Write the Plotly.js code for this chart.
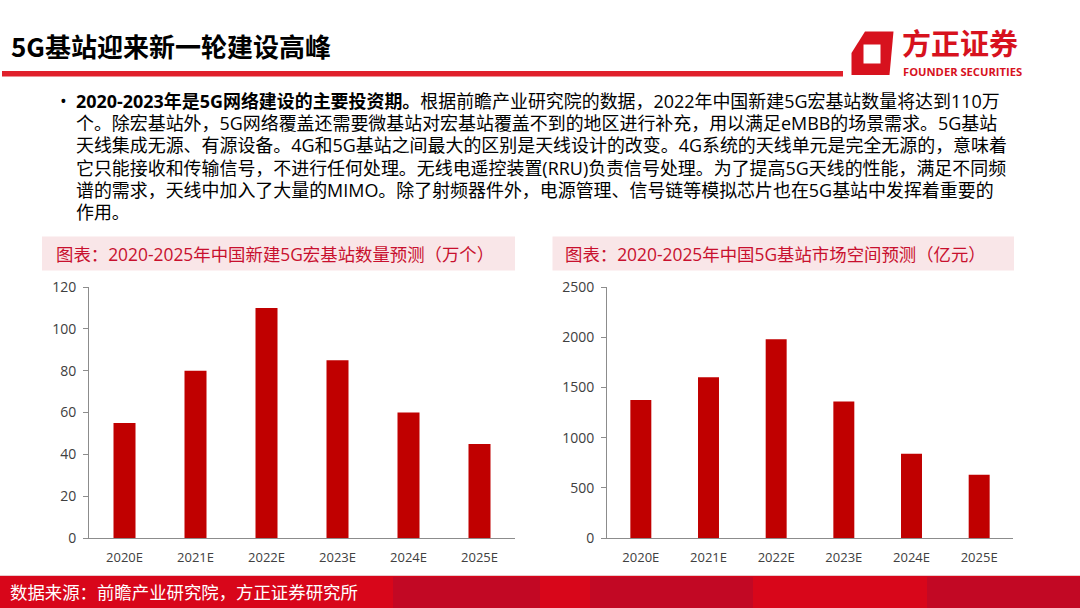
<!DOCTYPE html>
<html>
<head>
<meta charset="utf-8">
<script src="https://cdn.plot.ly/plotly-3.0.1.min.js"></script>
<style>
html,body{margin:0;padding:0;background:#fff;}
#chart{width:1080px;height:608px;}
</style>
</head>
<body>
<div id="chart"></div>
<script>
// ---- data ----
const categories = ["2020E", "2021E", "2022E", "2023E", "2024E", "2025E"];
const newMacroStations = [55, 80, 110, 85, 60, 45];      // 万个
const marketSpace = [1375, 1600, 1980, 1360, 840, 630];   // 亿元
const leftTicks = [0, 20, 40, 60, 80, 100, 120];
const rightTicks = [0, 500, 1000, 1500, 2000, 2500];

const pageTitle = "5G基站迎来新一轮建设高峰";
const leftChartTitle = "图表：2020-2025年中国新建5G宏基站数量预测（万个）";
const rightChartTitle = "图表：2020-2025年中国5G基站市场空间预测（亿元）";
const sourceText = "数据来源：前瞻产业研究院，方正证券研究所";
const bodyLines = [
  "<b>2020-2023年是5G网络建设的主要投资期。</b>根据前瞻产业研究院的数据，2022年中国新建5G宏基站数量将达到110万",
  "个。除宏基站外，5G网络覆盖还需要微基站对宏基站覆盖不到的地区进行补充，用以满足eMBB的场景需求。5G基站",
  "天线集成无源、有源设备。4G和5G基站之间最大的区别是天线设计的改变。4G系统的天线单元是完全无源的，意味着",
  "它只能接收和传输信号，不进行任何处理。无线电遥控装置(RRU)负责信号处理。为了提高5G天线的性能，满足不同频",
  "谱的需求，天线中加入了大量的MIMO。除了射频器件外，电源管理、信号链等模拟芯片也在5G基站中发挥着重要的",
  "作用。"
];

// ---- helpers ----
const W = 1080, H = 608;
const px = x => x / W;
const py = y => 1 - y / H;
const FONT = "'Open Sans', 'Noto Sans CJK SC', sans-serif";
const RED = "#C00000";

const traces = [
  {type: "bar", x: categories, y: newMacroStations, xaxis: "x", yaxis: "y",
   marker: {color: RED, line: {width: 0}}, hoverinfo: "skip"},
  {type: "bar", x: categories, y: marketSpace, xaxis: "x2", yaxis: "y2",
   marker: {color: RED, line: {width: 0}}, hoverinfo: "skip"}
];

const axisCommon = {
  showline: true, linecolor: "#8c8c8c", linewidth: 1,
  showgrid: false, zeroline: false, fixedrange: true
};

const shapes = [
  // title underline
  {type: "rect", xref: "paper", yref: "paper", x0: px(2), x1: px(843), y0: py(76.5), y1: py(71),
   fillcolor: "#E0202B", line: {width: 0}, layer: "below"},
  // chart title boxes
  {type: "rect", xref: "paper", yref: "paper", x0: px(42), x1: px(515), y0: py(270.5), y1: py(236.5),
   fillcolor: "#F9E6E8", line: {width: 0}, layer: "below"},
  {type: "rect", xref: "paper", yref: "paper", x0: px(552.5), x1: px(1014), y0: py(270.5), y1: py(236.5),
   fillcolor: "#F9E6E8", line: {width: 0}, layer: "below"},
  // footer band
  {type: "rect", xref: "paper", yref: "paper", x0: 0, x1: 1, y0: 0, y1: py(576),
   fillcolor: "#D8061A", line: {width: 0}, layer: "below"},
  {type: "rect", xref: "paper", yref: "paper", x0: px(393), x1: px(540), y0: 0, y1: py(577),
   fillcolor: "#C20824", line: {width: 0}, layer: "below"},
  {type: "rect", xref: "paper", yref: "paper", x0: px(590), x1: px(753), y0: 0, y1: py(577),
   fillcolor: "#C20824", line: {width: 0}, layer: "below"},
  {type: "rect", xref: "paper", yref: "paper", x0: px(927), x1: px(1080), y0: 0, y1: py(577),
   fillcolor: "#C20824", line: {width: 0}, layer: "below"},
  {type: "line", xref: "paper", yref: "paper", x0: 0, x1: 1, y0: py(575.5), y1: py(575.5),
   line: {color: "#E9C9CD", width: 1}},
  // logo icon
  {type: "path", xref: "paper", yref: "paper",
   path: `M ${px(865)} ${py(31.5)} L ${px(893.5)} ${py(31.5)} L ${px(889.5)} ${py(75)} L ${px(851.5)} ${py(75)} L ${px(851.5)} ${py(53)} Z`,
   fillcolor: "#D7121E", line: {width: 0}},
  {type: "rect", xref: "paper", yref: "paper", x0: px(863.5), x1: px(880.5), y0: py(63.5), y1: py(44.5),
   fillcolor: "#ffffff", line: {width: 0}}
];

const annotations = [
  {text: pageTitle, x: px(9), y: py(45), xanchor: "left", yanchor: "middle",
   font: {family: "'Noto Sans CJK SC', sans-serif", size: 26, color: "#000", weight: 700}},
  {text: "方正证券", x: px(900), y: py(42.5), xanchor: "left", yanchor: "middle",
   font: {family: "'Noto Sans CJK SC', sans-serif", size: 29, color: "#D7121E", weight: 700}},
  {text: "<b>FOUNDER SECURITIES</b>", x: px(901), y: py(71.5), xanchor: "left", yanchor: "middle",
   font: {family: "'Open Sans', sans-serif", size: 11.2, color: "#D7121E"}},
  {text: "•", x: px(58), y: py(101), xanchor: "left", yanchor: "middle",
   font: {family: FONT, size: 18, color: "#000"}},
  {text: leftChartTitle, x: px(54), y: py(254), xanchor: "left", yanchor: "middle",
   font: {family: FONT, size: 17.4, color: "#C8102E"}},
  {text: rightChartTitle, x: px(563), y: py(254), xanchor: "left", yanchor: "middle",
   font: {family: FONT, size: 17.4, color: "#C8102E"}},
  {text: sourceText, x: px(8), y: py(592), xanchor: "left", yanchor: "middle",
   font: {family: FONT, size: 17.4, color: "#ffffff"}}
];
bodyLines.forEach((t, i) => {
  annotations.push({text: t, x: px(74), y: py(101 + i * 22.2), xanchor: "left", yanchor: "middle",
    font: {family: FONT, size: 17.95, color: "#000"}});
});
annotations.forEach(a => { a.xref = "paper"; a.yref = "paper"; a.showarrow = false; a.align = "left"; });

const layout = {
  width: W, height: H,
  margin: {l: 0, r: 0, t: 0, b: 0},
  paper_bgcolor: "#ffffff", plot_bgcolor: "rgba(0,0,0,0)",
  showlegend: false, bargap: 0.69,
  font: {family: FONT, color: "#404040"},
  xaxis: Object.assign({}, axisCommon, {domain: [px(89), px(515)], anchor: "y", ticks: "",
    tickfont: {size: 13, color: "#404040"}, ticklabelstandoff: 7}),
  yaxis: Object.assign({}, axisCommon, {domain: [py(538), py(287)], anchor: "x", range: [0, 120],
    tickvals: leftTicks, ticks: "outside", ticklen: 5, tickcolor: "#8c8c8c",
    tickfont: {size: 14, color: "#404040"}, ticklabelstandoff: 4}),
  xaxis2: Object.assign({}, axisCommon, {domain: [px(607), px(1013)], anchor: "y2", ticks: "",
    tickfont: {size: 13, color: "#404040"}, ticklabelstandoff: 7}),
  yaxis2: Object.assign({}, axisCommon, {domain: [py(538), py(287)], anchor: "x2", range: [0, 2500],
    tickvals: rightTicks, ticks: "outside", ticklen: 5, tickcolor: "#8c8c8c",
    tickfont: {size: 14, color: "#404040"}, ticklabelstandoff: 4}),
  shapes: shapes,
  annotations: annotations
};

Plotly.newPlot("chart", traces, layout, {staticPlot: true, displayModeBar: false});
</script>
</body>
</html>
